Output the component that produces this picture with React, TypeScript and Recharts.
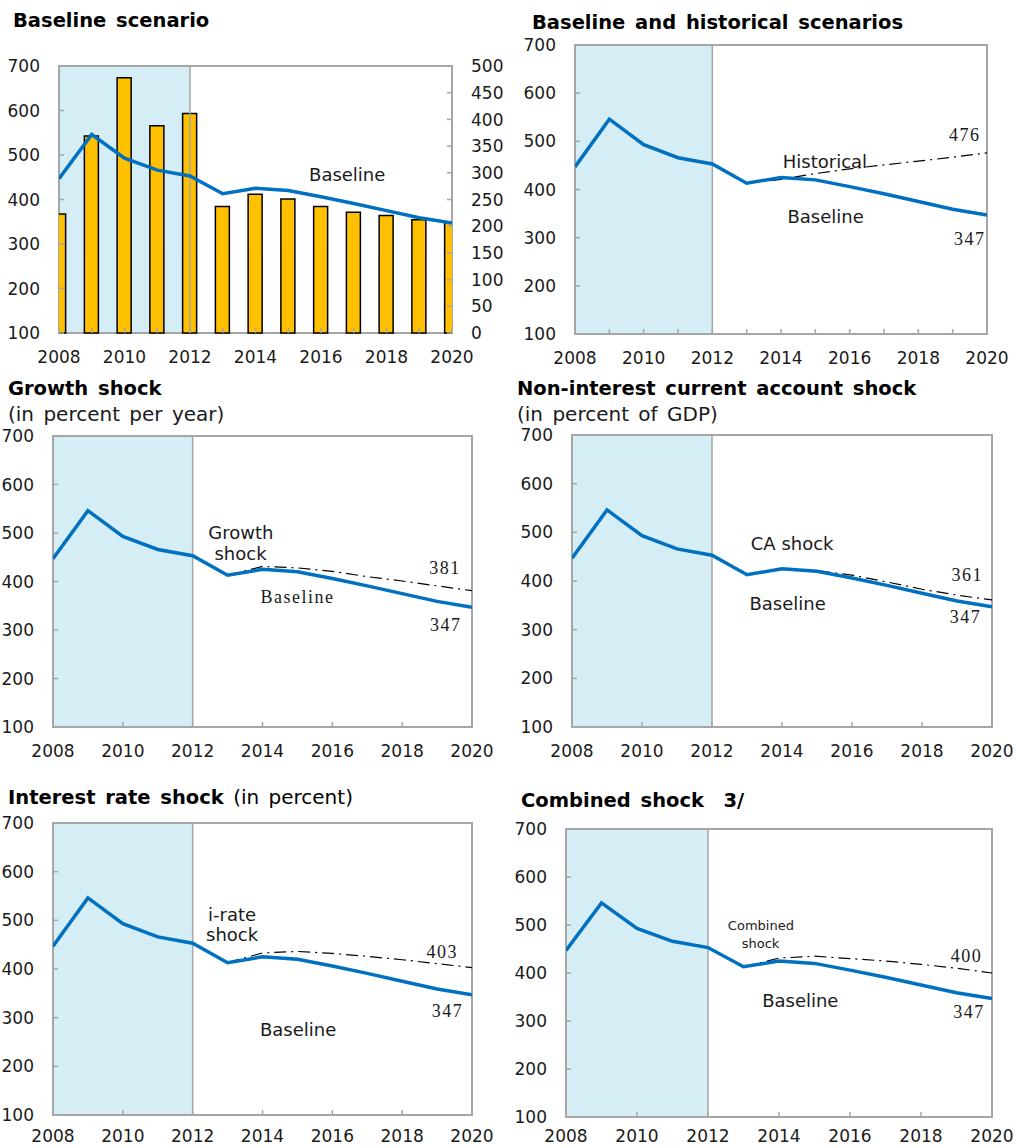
import React from 'react';
import {
  ComposedChart,
  Line,
  Bar,
  XAxis,
  YAxis,
  ReferenceArea,
  ReferenceLine,
  ReferenceDot,
} from 'recharts';

// Years on the x axis
const years = [2008, 2009, 2010, 2011, 2012, 2013, 2014, 2015, 2016, 2017, 2018, 2019, 2020];
const labelYears = [2008, 2010, 2012, 2014, 2016, 2018, 2020];

// Debt ratio (left axis), baseline scenario
const baseline = [447, 546, 493, 466, 453, 413, 425, 420, 406, 391, 375, 359, 347];
// Bars in the first panel (right axis)
const debtService = [223, 369, 478, 388, 411, 237, 260, 251, 237, 226, 220, 212, 207];

// Alternative scenarios, starting from 2013
const historical = [null, null, null, null, null, 413, 421, 433, 443, 451, 459, 467, 476];
const growthShock = [null, null, null, null, null, 413, 431, 428, 421, 410, 401, 391, 381];
const caShock = [null, null, null, null, null, 413, 425, 421, 412, 398, 383, 371, 361];
const interestShock = [null, null, null, null, null, 413, 433, 436, 432, 426, 419, 411, 403];
const combinedShock = [null, null, null, null, null, 413, 431, 435, 430, 425, 418, 410, 400];

const leftTicks = [100, 200, 300, 400, 500, 600, 700];
const rightTicks = [0, 50, 100, 150, 200, 250, 300, 350, 400, 450, 500];

const SANS = '"DejaVu Sans", Verdana, sans-serif';
const SERIF = '"Liberation Serif", "Times New Roman", serif';
const FRAME = '#a6a6a6';
const SHADE = '#d5edf4';
const BLUE = '#0070c0';
const INK = '#1a1a1a';
const Y_MARGIN = 19;

type Note = { x: number; y: number; text: string; serif?: boolean; size?: number };

const makeXTick = (margin: number) => (props: any) => {
  const { x, y, payload } = props;
  const axisY = y - margin;
  return (
    <g>
      <line x1={x} x2={x} y1={axisY} y2={axisY - 5} stroke={FRAME} strokeWidth={1.5} />
      {labelYears.includes(payload.value) && (
        <text x={x} y={y} dy="0.71em" textAnchor="middle" fontSize={17} fontFamily={SANS} fill={INK}>
          {payload.value}
        </text>
      )}
    </g>
  );
};

const LeftTick = (props: any) => {
  const { x, y, payload } = props;
  const axisX = x + Y_MARGIN;
  return (
    <g>
      <line x1={axisX} x2={axisX + 5} y1={y} y2={y} stroke={FRAME} strokeWidth={1.5} />
      <text x={x} y={y} dy="0.36em" textAnchor="end" fontSize={17} fontFamily={SANS} fill={INK}>
        {payload.value}
      </text>
    </g>
  );
};

const RightTick = (props: any) => {
  const { x, y, payload } = props;
  const axisX = x - Y_MARGIN;
  return (
    <g>
      <line x1={axisX} x2={axisX - 5} y1={y} y2={y} stroke={FRAME} strokeWidth={1.5} />
      <text x={x} y={y} dy="0.36em" textAnchor="start" fontSize={17} fontFamily={SANS} fill={INK}>
        {payload.value}
      </text>
    </g>
  );
};

interface PanelProps {
  chartLeft: number;
  box: { l: number; t: number; r: number; b: number };
  shock?: (number | null)[];
  bars?: boolean;
  xTicks: number[];
  xMargin?: number;
  notes: Note[];
}

function Panel({ chartLeft, box, shock, bars, xTicks, xMargin = 18, notes }: PanelProps) {
  const top = 10;
  const rightW = bars ? 60 : 24;
  const width = box.r - chartLeft + rightW;
  const height = box.b - box.t + top + 40;
  const data = years.map((year, i) => ({
    year,
    baseline: baseline[i],
    bars: debtService[i],
    shock: shock ? shock[i] : null,
  }));
  const XTick = makeXTick(xMargin);

  return (
    <div style={{ position: 'absolute', left: chartLeft, top: box.t - top, width, height }}>
      <ComposedChart
        width={width}
        height={height}
        data={data}
        margin={{ top, right: bars ? 0 : rightW, bottom: 0, left: 0 }}
      >
        <ReferenceArea yAxisId="left" x1={2008} x2={2012} y1={100} y2={700} fill={SHADE} fillOpacity={1} stroke="none" />
        <ReferenceLine yAxisId="left" x={2012} stroke={FRAME} strokeWidth={1.5} />
        <XAxis
          dataKey="year"
          type="number"
          domain={[2008, 2020]}
          ticks={xTicks}
          interval={0}
          allowDataOverflow
          axisLine={false}
          tickLine={false}
          tickSize={0}
          tickMargin={xMargin}
          height={40}
          tick={(p: any) => <XTick {...p} />}
        />
        <YAxis
          yAxisId="left"
          domain={[100, 700]}
          ticks={leftTicks}
          interval={0}
          width={box.l - chartLeft}
          axisLine={false}
          tickLine={false}
          tickSize={0}
          tickMargin={Y_MARGIN}
          tick={(p: any) => <LeftTick {...p} />}
        />
        {bars && (
          <YAxis
            yAxisId="right"
            orientation="right"
            domain={[0, 500]}
            ticks={rightTicks}
            interval={0}
            width={rightW}
            axisLine={false}
            tickLine={false}
            tickSize={0}
            tickMargin={Y_MARGIN}
            tick={(p: any) => <RightTick {...p} />}
          />
        )}
        {bars && (
          <Bar
            yAxisId="right"
            dataKey="bars"
            barSize={14}
            fill="#ffc000"
            stroke="#000"
            strokeWidth={1.5}
            isAnimationActive={false}
          />
        )}
        {shock && (
          <Line
            yAxisId="left"
            dataKey="shock"
            stroke="#000"
            strokeWidth={1.2}
            strokeDasharray="12 5 2 5"
            dot={false}
            isAnimationActive={false}
          />
        )}
        <Line
          yAxisId="left"
          dataKey="baseline"
          stroke={BLUE}
          strokeWidth={3.5}
          dot={false}
          isAnimationActive={false}
        />
        <ReferenceArea
          yAxisId="left"
          x1={2008}
          x2={2020}
          y1={100}
          y2={700}
          fill="none"
          stroke={FRAME}
          strokeWidth={2}
        />
        {notes.map((n, i) => (
          <ReferenceDot
            key={i}
            yAxisId="left"
            x={n.x}
            y={n.y}
            r={0}
            fill="none"
            stroke="none"
            label={{
              value: n.text,
              position: 'center',
              fill: INK,
              fontSize: n.size ?? 18,
              fontFamily: n.serif ? SERIF : SANS,
              letterSpacing: n.serif ? 1.5 : 0,
            }}
          />
        ))}
      </ComposedChart>
    </div>
  );
}

const Title = ({ x, baseline: by, children }: { x: number; baseline: number; children: React.ReactNode }) => (
  <div
    style={{
      position: 'absolute',
      left: x,
      top: by - 16.5,
      fontFamily: SANS,
      fontSize: 19.5,
      lineHeight: '19.5px',
      fontWeight: 'bold',
      wordSpacing: 3,
      color: '#000',
      whiteSpace: 'pre',
    }}
  >
    {children}
  </div>
);

const Sub = ({ x, baseline: by, children }: { x: number; baseline: number; children: React.ReactNode }) => (
  <div
    style={{
      position: 'absolute',
      left: x,
      top: by - 17,
      fontFamily: SANS,
      fontSize: 20,
      lineHeight: '20px',
      wordSpacing: 3,
      color: INK,
      whiteSpace: 'pre',
    }}
  >
    {children}
  </div>
);

export default function App() {
  return (
    <div
      style={{
        position: 'absolute',
        left: 0,
        top: 0,
        width: 1016,
        height: 1148,
        background: '#fff',
        overflow: 'hidden',
      }}
    >
      <Title x={13} baseline={27}>Baseline scenario</Title>
      <Panel
        chartLeft={0}
        box={{ l: 59, t: 66, r: 452, b: 333 }}
        bars
        xTicks={years}
        notes={[{ x: 2016.8, y: 455, text: 'Baseline' }]}
      />

      <Title x={532} baseline={29}>Baseline and historical scenarios</Title>
      <Panel
        chartLeft={505}
        box={{ l: 575, t: 45, r: 987, b: 334 }}
        shock={historical}
        xTicks={years}
        notes={[
          { x: 2019.35, y: 513, text: '476', serif: true },
          { x: 2015.28, y: 457, text: 'Historical' },
          { x: 2015.3, y: 343, text: 'Baseline' },
          { x: 2019.5, y: 299, text: '347', serif: true },
        ]}
      />

      <Title x={8} baseline={395}>Growth shock</Title>
      <Sub x={8} baseline={421}>(in percent per year)</Sub>
      <Panel
        chartLeft={0}
        box={{ l: 53, t: 436, r: 472, b: 727 }}
        shock={growthShock}
        xTicks={labelYears}
        notes={[
          { x: 2013.38, y: 500, text: 'Growth' },
          { x: 2013.37, y: 457, text: 'shock' },
          { x: 2019.23, y: 428, text: '381', serif: true },
          { x: 2015.0, y: 368, text: 'Baseline', serif: true },
          { x: 2019.25, y: 312, text: '347', serif: true },
        ]}
      />

      <Title x={517} baseline={395}>Non-interest current account shock</Title>
      <Sub x={517} baseline={421}>(in percent of GDP)</Sub>
      <Panel
        chartLeft={505}
        box={{ l: 572, t: 435, r: 992, b: 727 }}
        shock={caShock}
        xTicks={labelYears}
        notes={[
          { x: 2014.29, y: 476, text: 'CA shock' },
          { x: 2019.29, y: 414, text: '361', serif: true },
          { x: 2014.16, y: 353, text: 'Baseline' },
          { x: 2019.24, y: 326, text: '347', serif: true },
        ]}
      />

      <Title x={8} baseline={804}>
        Interest rate shock<span style={{ fontWeight: 'normal', fontSize: 20 }}> (in percent)</span>
      </Title>
      <Panel
        chartLeft={0}
        box={{ l: 53, t: 823, r: 472, b: 1115 }}
        shock={interestShock}
        xTicks={labelYears}
        xMargin={15}
        notes={[
          { x: 2013.13, y: 511, text: 'i-rate' },
          { x: 2013.13, y: 470, text: 'shock' },
          { x: 2019.15, y: 435, text: '403', serif: true },
          { x: 2019.3, y: 314, text: '347', serif: true },
          { x: 2015.02, y: 275, text: 'Baseline' },
        ]}
      />

      <Title x={521} baseline={807}>Combined shock  3/</Title>
      <Panel
        chartLeft={505}
        box={{ l: 566, t: 829, r: 992, b: 1117 }}
        shock={combinedShock}
        xTicks={labelYears}
        xMargin={13}
        notes={[
          { x: 2013.49, y: 500, text: 'Combined', size: 13 },
          { x: 2013.48, y: 462, text: 'shock', size: 13 },
          { x: 2019.28, y: 437, text: '400', serif: true },
          { x: 2014.6, y: 342, text: 'Baseline' },
          { x: 2019.35, y: 319, text: '347', serif: true },
        ]}
      />
    </div>
  );
}
